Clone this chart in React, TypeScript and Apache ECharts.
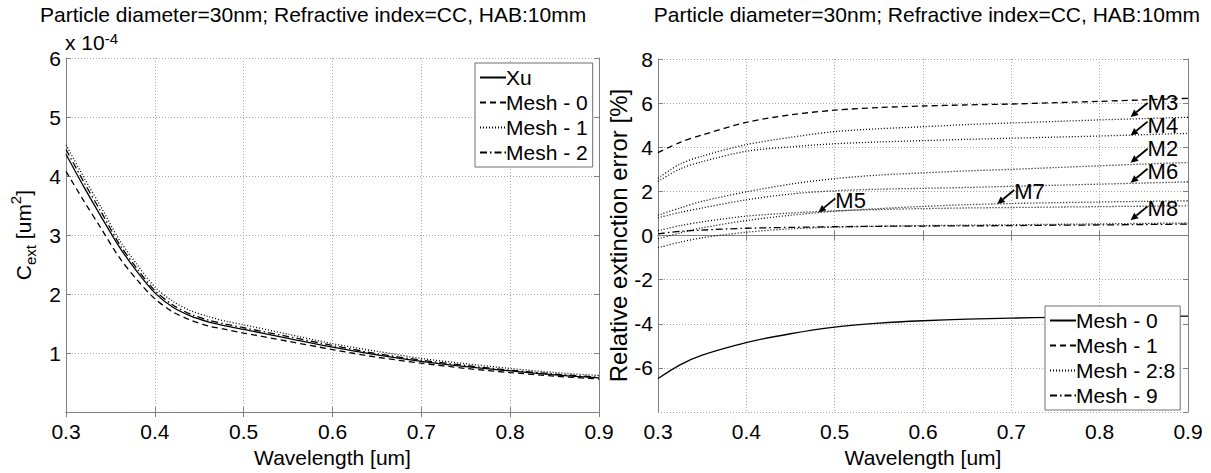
import React, { useEffect, useRef } from "react";
import * as echarts from "echarts";

const FONT = "'Liberation Sans', Arial, Helvetica, sans-serif";
const TITLE = "Particle diameter=30nm; Refractive index=CC, HAB:10mm";

// ---- Left panel: extinction cross section (x 1e-4 um^2) ----
const wlLeft = [0.30, 0.32, 0.34, 0.36, 0.38, 0.40, 0.42, 0.44, 0.46, 0.48, 0.50, 0.55, 0.60, 0.65, 0.70, 0.75, 0.80, 0.85, 0.90];
const xu = [4.37, 3.82, 3.30, 2.80, 2.38, 2.02, 1.78, 1.63, 1.53, 1.46, 1.40, 1.25, 1.10, 0.97, 0.86, 0.77, 0.70, 0.63, 0.58];
const cMesh0 = [4.08, 3.58, 3.10, 2.62, 2.24, 1.92, 1.70, 1.56, 1.46, 1.40, 1.34, 1.20, 1.06, 0.93, 0.83, 0.74, 0.67, 0.61, 0.56];
const cMesh1 = [4.53, 3.98, 3.46, 2.92, 2.50, 2.12, 1.88, 1.72, 1.62, 1.54, 1.48, 1.32, 1.16, 1.03, 0.91, 0.82, 0.74, 0.67, 0.62];
const cMesh2 = [4.45, 3.90, 3.38, 2.85, 2.43, 2.06, 1.82, 1.66, 1.56, 1.49, 1.43, 1.28, 1.13, 0.99, 0.88, 0.79, 0.71, 0.645, 0.59];

// ---- Right panel: relative extinction error [%] ----
const wlRight = [0.30, 0.325, 0.35, 0.40, 0.45, 0.50, 0.55, 0.60, 0.65, 0.70, 0.75, 0.80, 0.85, 0.90];
const eMesh0 = [-6.48, -5.86, -5.42, -4.85, -4.45, -4.15, -3.97, -3.86, -3.79, -3.74, -3.71, -3.69, -3.67, -3.65];
const eMesh1 = [3.76, 4.22, 4.56, 5.13, 5.47, 5.68, 5.80, 5.87, 5.92, 5.96, 6.02, 6.08, 6.15, 6.22];
const eM2 = [0.92, 1.25, 1.55, 1.98, 2.33, 2.58, 2.74, 2.84, 2.93, 3.00, 3.08, 3.16, 3.24, 3.31];
const eM3 = [2.60, 3.24, 3.60, 4.12, 4.45, 4.71, 4.84, 4.93, 5.03, 5.10, 5.17, 5.24, 5.30, 5.36];
const eM4 = [2.45, 3.02, 3.35, 3.82, 4.02, 4.16, 4.24, 4.30, 4.36, 4.41, 4.46, 4.51, 4.57, 4.63];
const eM5 = [0.22, 0.45, 0.62, 0.88, 1.02, 1.12, 1.18, 1.22, 1.25, 1.27, 1.29, 1.31, 1.33, 1.35];
const eM6 = [0.80, 1.05, 1.25, 1.62, 1.88, 2.03, 2.10, 2.14, 2.18, 2.23, 2.28, 2.33, 2.38, 2.43];
const eM7 = [-0.15, 0.12, 0.35, 0.68, 0.92, 1.10, 1.22, 1.32, 1.40, 1.45, 1.49, 1.52, 1.55, 1.57];
const eM8 = [-0.55, -0.30, -0.10, 0.15, 0.30, 0.38, 0.42, 0.45, 0.47, 0.49, 0.51, 0.53, 0.55, 0.57];
const eMesh9 = [0.08, 0.19, 0.25, 0.33, 0.37, 0.40, 0.42, 0.43, 0.44, 0.45, 0.47, 0.48, 0.50, 0.52];

// annotation labels (text, arrow tip in data coordinates)
const annLabels = ["M3", "M4", "M2", "M6", "M7", "M8", "M5"];
const annWl = [0.835, 0.835, 0.835, 0.835, 0.684, 0.835, 0.4815];
const annErr = [5.37, 4.53, 3.30, 2.39, 1.43, 0.69, 1.05];
const annTextDy = [-15, -10, -14, -11, -12, -12, -12];

const leftLegend = ["Xu", "Mesh - 0", "Mesh - 1", "Mesh - 2"];
const rightLegend = ["R:Mesh - 0", "R:Mesh - 1", "R:Mesh - 2:8", "R:Mesh - 9"];

const SOLID = "solid" as const;
const DASH = [6, 4];
const DOT = [1, 2];
const DASHDOT = [7, 3, 1.5, 3];

const FS = 21;

const pairs = (xs: number[], ys: number[]) => xs.map((x, i) => [x, ys[i]]);

function lineSeries(name: string, xs: number[], ys: number[], type: any, idx: number) {
  return {
    type: "line",
    name,
    data: pairs(xs, ys),
    xAxisIndex: idx,
    yAxisIndex: idx,
    symbol: "none",
    smooth: 0.3,
    lineStyle: { color: "#000", width: 1.3, type },
    itemStyle: { color: "#000" },
    silent: true,
    z: 3,
  };
}

const AXC = "#808080";
const GRIDC = "#a8a8a8";

function mainX(gridIndex: number) {
  return {
    type: "value",
    gridIndex,
    min: 0.3,
    max: 0.9,
    interval: 0.1,
    name: "Wavelength [um]",
    nameLocation: "middle",
    nameGap: 31,
    nameTextStyle: { fontFamily: FONT, fontSize: FS, color: "#000" },
    axisLine: { show: true, lineStyle: { color: AXC, width: 1 } },
    axisTick: { show: true, inside: true, length: 5, lineStyle: { color: AXC } },
    axisLabel: {
      fontFamily: FONT,
      fontSize: FS,
      color: "#000",
      margin: 9,
      formatter: (v: number) => v.toFixed(1),
    },
    splitLine: { show: true, lineStyle: { color: GRIDC, type: [1, 2], width: 1 } },
  };
}

function topX(gridIndex: number) {
  return {
    type: "value",
    gridIndex,
    position: "top",
    min: 0.3,
    max: 0.9,
    interval: 0.1,
    axisLine: { show: true, lineStyle: { color: AXC, width: 1 } },
    axisTick: { show: true, inside: true, length: 5, lineStyle: { color: AXC } },
    axisLabel: { show: false },
    splitLine: { show: false },
  };
}

function sideY(gridIndex: number, min: number, max: number, interval: number, position: "left" | "right", main: boolean, extra: any = {}) {
  return {
    type: "value",
    gridIndex,
    position,
    min,
    max,
    interval,
    axisLine: { show: true, onZero: false, lineStyle: { color: AXC, width: 1 } },
    axisTick: { show: true, inside: true, length: 5, lineStyle: { color: AXC } },
    axisLabel: main
      ? { show: true, fontFamily: FONT, fontSize: FS, color: "#000", margin: 5, showMinLabel: false }
      : { show: false },
    splitLine: main
      ? { show: true, lineStyle: { color: GRIDC, type: [1, 2], width: 1 } }
      : { show: false },
    ...extra,
  };
}

function legendCfg(data: string[], left: number, top: number) {
  return {
    data,
    orient: "vertical",
    left,
    top,
    itemWidth: 26,
    itemHeight: 12,
    itemGap: 2,
    padding: [3, 5, 3, 4],
    backgroundColor: "#fff",
    borderColor: "#707070",
    borderWidth: 1,
    borderRadius: 0,
    selectedMode: false,
    itemStyle: { opacity: 0 },
    textStyle: { fontFamily: FONT, fontSize: FS, color: "#000", padding: [0, 0, 0, -5], lineHeight: 23 },
    formatter: (n: string) => n.replace("R:", ""),
  };
}

export default function App() {
  const ref = useRef<HTMLDivElement>(null);

  useEffect(() => {
    if (!ref.current) return;
    const chart = echarts.init(ref.current, undefined, { renderer: "svg" });

    const series: any[] = [
      lineSeries("Xu", wlLeft, xu, SOLID, 0),
      lineSeries("Mesh - 0", wlLeft, cMesh0, DASH, 0),
      lineSeries("Mesh - 1", wlLeft, cMesh1, DOT, 0),
      lineSeries("Mesh - 2", wlLeft, cMesh2, DASHDOT, 0),
      lineSeries("R:Mesh - 0", wlRight, eMesh0, SOLID, 1),
      lineSeries("R:Mesh - 1", wlRight, eMesh1, DASH, 1),
      lineSeries("R:Mesh - 2:8", wlRight, eM2, DOT, 1),
      lineSeries("R:M3", wlRight, eM3, DOT, 1),
      lineSeries("R:M4", wlRight, eM4, DOT, 1),
      lineSeries("R:M5", wlRight, eM5, DOT, 1),
      lineSeries("R:M6", wlRight, eM6, DOT, 1),
      lineSeries("R:M7", wlRight, eM7, DOT, 1),
      lineSeries("R:M8", wlRight, eM8, DOT, 1),
      lineSeries("R:Mesh - 9", wlRight, eMesh9, DASHDOT, 1),
    ];

    const titleStyle = { fontFamily: FONT, fontSize: 21, fontWeight: "normal", color: "#000", lineHeight: 24 };

    const option: any = {
      animation: false,
      backgroundColor: "#fff",
      textStyle: { fontFamily: FONT },
      title: [
        { text: TITLE, left: 40, top: 2, padding: 0, textStyle: titleStyle },
        { text: TITLE, right: 11, top: 2, padding: 0, textStyle: titleStyle },
      ],
      grid: [
        { left: 66, right: 612, top: 58, bottom: 51, containLabel: false },
        { left: 658, right: 23, top: 59, bottom: 52, containLabel: false },
      ],
      xAxis: [mainX(0), mainX(1), topX(0), topX(1)],
      yAxis: [
        sideY(0, 0, 6, 1, "left", true, {
          name: "{a|C}{b|ext}{a| [um}{c|2}{a|]}",
          nameLocation: "middle",
          nameRotate: 90,
          nameGap: 28,
          nameTextStyle: {
            color: "#000",
            rich: {
              a: { fontFamily: FONT, fontSize: FS, color: "#000", lineHeight: 30, verticalAlign: "middle" },
              b: { fontFamily: FONT, fontSize: 15, color: "#000", lineHeight: 30, verticalAlign: "bottom" },
              c: { fontFamily: FONT, fontSize: 15, color: "#000", lineHeight: 30, verticalAlign: "top" },
            },
          },
        }),
        sideY(1, -8, 8, 2, "left", true, {
          name: "Relative extinction error [%]",
          nameLocation: "middle",
          nameRotate: 90,
          nameGap: 26,
          nameTextStyle: { fontFamily: FONT, fontSize: 24, color: "#000" },
        }),
        sideY(0, 0, 6, 1, "right", false),
        sideY(1, -8, 8, 2, "right", false),
      ],
      legend: [legendCfg(leftLegend, 475, 63), legendCfg(rightLegend, 1045, 306)],
      series,
    };

    chart.setOption(option);

    const graphics: any[] = [
      {
        type: "text",
        left: 65,
        top: 31,
        style: {
          text: "{a|x 10}{b|-4}",
          rich: {
            a: { fontFamily: FONT, fontSize: FS, fill: "#000", lineHeight: 22, verticalAlign: "bottom" },
            b: { fontFamily: FONT, fontSize: 15, fill: "#000", lineHeight: 22, verticalAlign: "top" },
          },
        },
        z: 10,
      },
    ];

    annLabels.forEach((label, i) => {
      const p = chart.convertToPixel({ xAxisIndex: 1, yAxisIndex: 1 }, [annWl[i], annErr[i]]) as number[];
      const tx = p[0] + 17;
      const ty = p[1] - 14;
      const dx = p[0] - tx;
      const dy = p[1] - ty;
      const len = Math.sqrt(dx * dx + dy * dy);
      const ux = dx / len;
      const uy = dy / len;
      const hl = 7.5;
      const hw = 3.5;
      const bx = p[0] - ux * hl;
      const by = p[1] - uy * hl;
      graphics.push({
        type: "line",
        shape: { x1: tx, y1: ty, x2: bx, y2: by },
        style: { stroke: "#000", lineWidth: 1.8 },
        z: 10,
      });
      graphics.push({
        type: "polygon",
        shape: {
          points: [
            [p[0], p[1]],
            [bx - uy * hw, by + ux * hw],
            [bx + uy * hw, by - ux * hw],
          ],
        },
        style: { fill: "#000" },
        z: 10,
      });
      graphics.push({
        type: "text",
        x: p[0] + 17,
        y: p[1] + annTextDy[i],
        style: {
          text: label,
          fontFamily: FONT,
          fontSize: 22,
          lineHeight: 17,
          fill: "#000",
          verticalAlign: "middle",
          align: "left",
        },
        z: 10,
      });
    });

    chart.setOption({ graphic: graphics });

    return () => {
      chart.dispose();
    };
  }, []);

  return (
    <div
      ref={ref}
      style={{ position: "fixed", left: 0, top: 0, width: 1211, height: 473, background: "#fff" }}
    />
  );
}
